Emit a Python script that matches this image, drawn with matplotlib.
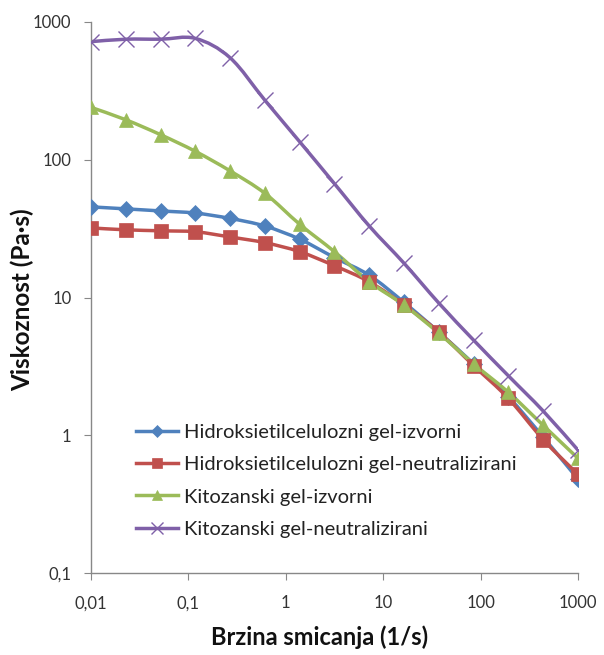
import numpy as np
import matplotlib
matplotlib.use("Agg")
import matplotlib.pyplot as plt
from matplotlib.path import Path
from matplotlib.patches import PathPatch

plt.rcParams['font.family'] = ['Lato', 'DejaVu Sans']

shear_rate = [0.01, 0.0228, 0.0518, 0.118, 0.268, 0.611, 1.39, 3.16, 7.2, 16.4, 37.3, 84.8, 193, 439, 1000]
hec_izvorni = [45.5, 44, 42.5, 41, 37.5, 33, 26.5, 19.5, 14.5, 9.2, 5.6, 3.3, 1.9, 0.97, 0.48]
hec_neutral = [32, 31, 30.5, 30, 27.5, 25, 21.5, 17, 13, 8.8, 5.6, 3.2, 1.85, 0.93, 0.52]
kit_izvorni = [240, 195, 152, 115, 83, 57, 34, 21.5, 13, 8.8, 5.5, 3.3, 2.05, 1.18, 0.68]
kit_neutral = [720, 750, 750, 760, 550, 270, 135, 67, 33, 17.7, 9.1, 4.9, 2.7, 1.5, 0.78]

labels = ["Hidroksietilcelulozni gel-izvorni",
          "Hidroksietilcelulozni gel-neutralizirani",
          "Kitozanski gel-izvorni",
          "Kitozanski gel-neutralizirani"]
colors = ["#4F81BD", "#C0504D", "#9BBB59", "#7F60A8"]
markers = ["D", "s", "^", "x"]
msizes = [8, 10, 10, 11]

xticks = [0.01, 0.1, 1, 10, 100, 1000]
xticklabels = ["0,01", "0,1", "1", "10", "100", "1000"]
yticks = [0.1, 1, 10, 100, 1000]
yticklabels = ["0,1", "1", "10", "100", "1000"]

fig = plt.figure(figsize=(6.04, 6.55), dpi=100)
ax = fig.add_axes([91/604, 1-573/655, 487/604, 551/655])
ax.set_xscale('log')
ax.set_yscale('log')
ax.set_xlim(0.01, 1000)
ax.set_ylim(0.1, 1000)


def smooth_path(ax, xs, ys):
    # Excel-style smoothed line (Catmull-Rom -> cubic Bezier) in display space
    pts = ax.transData.transform(np.column_stack([xs, ys]))
    verts = [pts[0]]
    codes = [Path.MOVETO]
    n = len(pts)
    for i in range(n - 1):
        p0 = pts[i - 1] if i > 0 else pts[i]
        p1 = pts[i]
        p2 = pts[i + 1]
        p3 = pts[i + 2] if i + 2 < n else pts[i + 1]
        c1 = p1 + (p2 - p0) / 6.0
        c2 = p2 - (p3 - p1) / 6.0
        verts += [c1, c2, p2]
        codes += [Path.CURVE4] * 3
    return Path(verts, codes)


series = [hec_izvorni, hec_neutral, kit_izvorni, kit_neutral]
for ys, lab, c, m, ms in zip(series, labels, colors, markers, msizes):
    path = smooth_path(ax, shear_rate, ys)
    patch = PathPatch(path, facecolor='none', edgecolor=c, lw=2.5,
                      transform=None, zorder=2)
    ax.add_artist(patch)
    mew = 1.0 if m == "x" else 0.5
    ax.plot(shear_rate, ys, linestyle='none', marker=m, color=c, ms=ms,
            mew=mew, zorder=3)
    ax.plot([], [], color=c, lw=2.5, marker=m, ms=ms * 0.75, mew=mew, label=lab)

ax.set_xticks(xticks)
ax.set_xticklabels(xticklabels)
ax.set_yticks(yticks)
ax.set_yticklabels(yticklabels)
ax.minorticks_off()
ax.tick_params(axis='x', which='major', direction='out', length=5,
               color='#888888', labelsize=12, labelcolor='#333333', pad=11)
ax.tick_params(axis='y', which='major', direction='out', length=5,
               color='#888888', labelsize=12, labelcolor='#333333', pad=9)

for s in ['top', 'right']:
    ax.spines[s].set_visible(False)
for s in ['left', 'bottom']:
    ax.spines[s].set_color('#888888')
    ax.spines[s].set_linewidth(1.0)

ax.set_xlabel("Brzina smicanja (1/s)", fontsize=17, fontweight='bold',
              color='#111111')
ax.xaxis.set_label_coords((320 - 91) / 487, -(637 - 573) / 551)
ax.xaxis.label.set_va('center')
ax.set_ylabel("Viskoznost (Pa·s)", fontsize=17.5, fontweight='bold',
              color='#111111')
ax.yaxis.set_label_coords(-(91 - 22) / 487, (573 - 300) / 551)
ax.yaxis.label.set_va('center')

leg = ax.legend(loc='upper left', bbox_to_anchor=(0.075, 0.285), frameon=False,
                fontsize=14.5, handlelength=2.1, handletextpad=0.3,
                labelspacing=0.75, borderaxespad=0)
for t in leg.get_texts():
    t.set_color('#222222')

fig.savefig("out.png", dpi=100)
